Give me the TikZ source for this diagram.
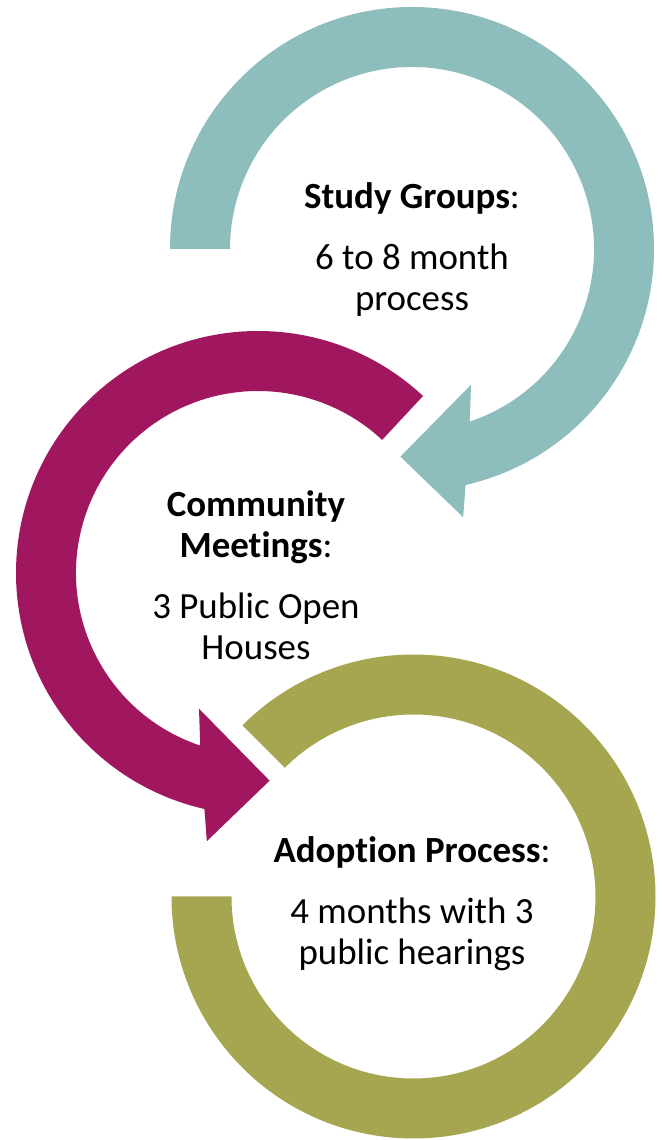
\documentclass[tikz,border=0pt]{standalone}
\usepackage{fontspec}
\setmainfont{Carlito}[Ligatures=NoCommon]

\definecolor{studyColor}{RGB}{141,190,189}
\definecolor{meetColor}{RGB}{160,23,96}
\definecolor{adoptColor}{RGB}{166,166,80}

\tikzset{
  ringText/.style={align=center, font=\fontsize{21}{23.5}\selectfont}
}

\begin{document}
\begin{tikzpicture}[x=0.02cm, y=0.02cm]
  \useasboundingbox (0,0) rectangle (663,1140);
  \coordinate (study) at (412,891);
  \coordinate (meet) at (258,567);
  \coordinate (adopt) at (413.5,243.5);
  % Study groups arrow
  \begin{scope}[shift={(study)}]
    \fill[studyColor] (180:242) arc[start angle=180, end angle=-77.2, radius=242]
      -- (-79.2:273) -- (-93.2:208) -- (-66.5:148) -- (-71.5:182)
      arc[start angle=-71.5, end angle=180, radius=182] -- cycle;
  \end{scope}
  % Community meetings arrow
  \begin{scope}[shift={(meet)}]
    \fill[meetColor] (47:242) arc[start angle=47, end angle=257.2, radius=242]
      -- (259.2:273) -- (273.2:208) -- (246.5:148) -- (251.5:182)
      arc[start angle=251.5, end angle=47, radius=182] -- cycle;
  \end{scope}
  % Adoption ring
  \begin{scope}[shift={(adopt)}]
    \fill[adoptColor] (135:242) arc[start angle=135, end angle=-180, radius=242]
      -- (180:182) arc[start angle=180, end angle=495, radius=182] -- cycle;
  \end{scope}
  % Labels
  \node[ringText] (studyText) at (412,890.5)
    {\textbf{Study Groups}:\\[11pt]6 to 8 month\\process};
  \node[ringText] (meetText) at (256,564.5)
    {\textbf{Community}\\\textbf{Meetings}:\\[11pt]3 Public Open\\Houses};
  \node[ringText] (adoptText) at (412,236)
    {\textbf{Adoption Process}:\\[11pt]4 months with 3\\public hearings};
\end{tikzpicture}
\end{document}
